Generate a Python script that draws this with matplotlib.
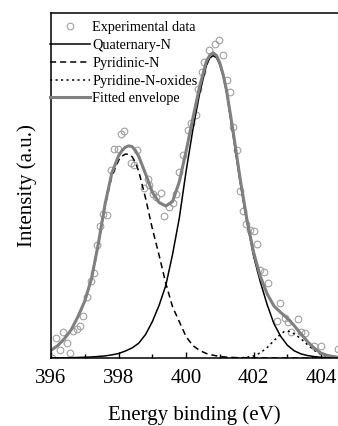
import matplotlib
matplotlib.use("Agg")
import matplotlib.pyplot as plt
from matplotlib.ticker import MultipleLocator

plt.rcParams["font.family"] = ["Liberation Serif", "DejaVu Serif"]

# N 1s spectrum (a.u., axis top = 100)
exp_energy = [396.02, 396.16, 396.26, 396.36, 396.46, 396.56, 396.66, 396.78, 396.86,
              396.96, 397.07, 397.18, 397.26, 397.37, 397.45, 397.53, 397.65, 397.77,
              397.87, 397.97, 398.07, 398.15, 398.37, 398.46, 398.56, 398.76, 398.86,
              398.91, 399.01, 399.11, 399.26, 399.35, 399.48, 399.60, 399.70, 399.80,
              399.92, 400.07, 400.16, 400.29, 400.34, 400.46, 400.54, 400.67, 400.87,
              400.99, 401.08, 401.20, 401.30, 401.38, 401.50, 401.59, 401.70, 401.78,
              401.88, 402.01, 402.09, 402.20, 402.31, 402.42, 402.68, 402.78, 402.93,
              403.01, 403.11, 403.31, 403.41, 403.51, 403.80, 404.00, 404.49]
exp_intensity = [0.1, 5.9, 2.2, 7.6, 4.3, 1.4, 7.7, 8.4, 9.3,
                 12.3, 17.6, 22.3, 24.7, 32.8, 38.3, 41.8, 41.3, 54.5,
                 60.4, 60.4, 64.9, 65.6, 56.5, 55.8, 60.1, 49.1, 51.7,
                 50.0, 47.4, 46.5, 47.8, 41.0, 43.6, 44.9, 47.4, 53.8,
                 58.7, 65.9, 68.1, 70.2, 78.0, 82.8, 85.6, 89.2, 91.0,
                 91.9, 87.8, 80.6, 77.0, 66.9, 60.1, 48.4, 42.5, 38.9,
                 37.0, 36.9, 33.0, 25.4, 24.9, 21.7, 10.8, 15.8, 11.7,
                 10.5, 7.4, 11.3, 7.4, 7.2, 3.6, 3.6, 2.6]

quat_energy = [396.0, 396.4, 396.8, 397.2, 397.6, 397.8, 398.0, 398.2, 398.4, 398.6,
               398.8, 399.0, 399.2, 399.4, 399.6, 399.8, 400.0, 400.2, 400.4, 400.6,
               400.7, 400.8, 400.9, 401.0, 401.1, 401.2, 401.4, 401.6, 401.8, 402.0,
               402.2, 402.4, 402.6, 402.8, 403.0, 403.2, 403.4, 403.6, 403.8, 404.0,
               404.2, 404.5]
quat_int = [0.0, 0.05, 0.15, 0.3, 0.6, 0.9, 1.3, 2.0, 2.9, 4.3,
            6.8, 10.5, 15.2, 21.0, 30.0, 40.5, 54.0, 66.0, 76.5, 84.6,
            86.8, 87.5, 86.9, 84.9, 81.5, 77.0, 64.0, 51.0, 39.5, 29.5,
            22.0, 15.5, 10.0, 6.3, 3.7, 2.1, 1.2, 0.7, 0.4, 0.2,
            0.1, 0.0]

pyrd_energy = [396.0, 396.2, 396.4, 396.6, 396.8, 397.0, 397.2, 397.4, 397.6, 397.8,
               398.0, 398.1, 398.2, 398.3, 398.4, 398.5, 398.6, 398.8, 399.0, 399.2,
               399.4, 399.6, 399.8, 400.0, 400.2, 400.4, 400.6, 400.8, 401.0, 401.2,
               401.5, 402.0, 404.5]
pyrd_int = [2.2, 3.6, 5.55, 8.1, 11.85, 16.3, 22.7, 32.6, 43.9, 52.6,
            57.2, 58.4, 59.0, 59.0, 58.3, 56.6, 54.0, 46.3, 37.5, 29.8,
            21.6, 14.8, 10.5, 6.2, 3.6, 2.2, 1.3, 0.8, 0.45, 0.25,
            0.1, 0.0, 0.0]

oxid_energy = [401.0, 401.4, 401.6, 401.8, 402.0, 402.2, 402.4, 402.6, 402.8, 402.9,
               403.0, 403.1, 403.2, 403.4, 403.6, 403.8, 404.0, 404.2, 404.5]
oxid_int = [0.0, 0.0, 0.05, 0.2, 0.6, 1.5, 3.0, 5.0, 6.9, 7.6,
            7.8, 7.6, 7.0, 5.6, 3.8, 2.2, 1.0, 0.4, 0.05]

env_energy = [396.0, 396.2, 396.4, 396.6, 396.8, 397.0, 397.2, 397.4, 397.6, 397.8,
              398.0, 398.1, 398.2, 398.3, 398.4, 398.5, 398.6, 398.8, 399.0, 399.2,
              399.4, 399.6, 399.8, 400.0, 400.2, 400.4, 400.6, 400.7, 400.8, 400.9,
              401.0, 401.1, 401.2, 401.4, 401.6, 401.8, 402.0, 402.2, 402.4, 402.6,
              402.8, 403.0, 403.2, 403.4, 403.6, 403.8, 404.0, 404.2, 404.5]
env_int = [2.2, 3.6, 5.6, 8.2, 12.0, 16.5, 23.0, 33.0, 44.5, 53.5,
           58.5, 60.0, 61.0, 61.4, 61.2, 60.1, 58.3, 53.3, 48.0, 45.0,
           44.0, 45.3, 51.0, 59.8, 69.3, 78.5, 85.8, 87.6, 88.3, 87.6,
           85.4, 82.0, 77.4, 65.2, 52.0, 40.2, 30.6, 23.6, 18.6, 15.1,
           13.2, 11.5, 9.4, 7.0, 4.7, 2.8, 1.4, 0.7, 0.2]

GRAY = "#808080"

fig = plt.figure(figsize=(3.38, 4.26), dpi=100)
ax = fig.add_axes([51 / 338, 68 / 426, 1 - 51 / 338, (358 - 12.5) / 426])

ax.plot(exp_energy, exp_intensity, "o", ls="none", ms=4.8, mfc="none",
        mec="#a0a0a0", mew=0.8, label="Experimental data")
ax.plot(quat_energy, quat_int, color="black", lw=1.1, label="Quaternary-N")
ax.plot(pyrd_energy, pyrd_int, color="black", lw=1.1, dashes=(4, 2.6),
        label="Pyridinic-N")
ax.plot(oxid_energy, oxid_int, color="black", lw=1.1, dashes=(1.4, 2.2),
        label="Pyridine-N-oxides")
ax.plot(env_energy, env_int, color=GRAY, lw=2.2, label="Fitted envelope")

ax.set_xlim(396, 404.5)
ax.set_ylim(0, 100)
ax.xaxis.set_major_locator(MultipleLocator(2))
ax.xaxis.set_minor_locator(MultipleLocator(1))
ax.tick_params(axis="x", which="major", direction="in", length=4.5, width=1.0,
               labelsize=15, pad=8)
ax.tick_params(axis="x", which="minor", direction="in", length=3.2, width=1.0)
ax.set_yticks([])
for s in ["left", "bottom", "top"]:
    ax.spines[s].set_linewidth(1.1)
ax.spines["right"].set_visible(False)

ax.set_xlabel("Energy binding (eV)", fontsize=15, labelpad=12)
ax.set_ylabel("Intensity (a.u.)", fontsize=15, labelpad=10)

ax.legend(loc="upper left", bbox_to_anchor=(-0.012, 0.984), frameon=False,
          fontsize=10.3, numpoints=1, handlelength=2.8, handletextpad=0.12,
          labelspacing=0.34, borderpad=0.2, borderaxespad=0.0)

fig.savefig("out.png", dpi=100)
